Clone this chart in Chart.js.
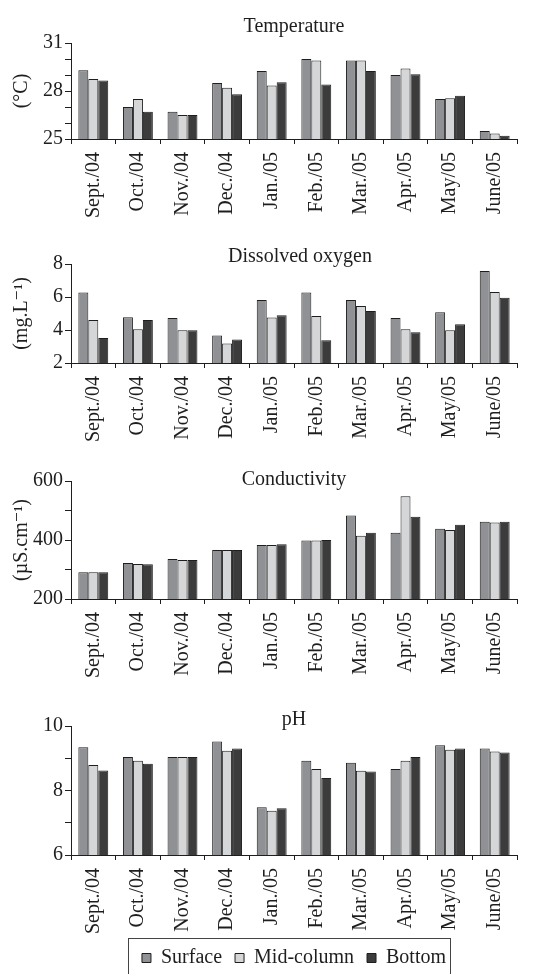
<!DOCTYPE html>
<html>
<head>
<meta charset="utf-8">
<script src="https://cdn.jsdelivr.net/npm/chart.js@4/dist/chart.umd.min.js"></script>
<style>
  html, body { margin: 0; padding: 0; background: #fff; overflow: hidden; }
  #wrap { position: relative; width: 544px; height: 974px; }
  #wrap canvas { position: absolute; left: 0; }
</style>
</head>
<body>
<div id="wrap">
  <canvas id="tempChart" width="544" height="240" style="top:0px"></canvas>
  <canvas id="oxyChart" width="544" height="220" style="top:240px"></canvas>
  <canvas id="condChart" width="544" height="240" style="top:460px"></canvas>
  <canvas id="phChart" width="544" height="278" style="top:700px"></canvas>
</div>
<script>
const months = ['Sept./04', 'Oct./04', 'Nov./04', 'Dec./04', 'Jan./05', 'Feb./05', 'Mar./05', 'Apr./05', 'May/05', 'June/05'];
const seriesNames = ['Surface', 'Mid-column', 'Bottom'];

// Temperature (°C)
const tempSurface = [29.3, 27.0, 26.7, 28.5, 29.25, 30.0, 29.9, 29.0, 27.5, 25.5];
const tempMid     = [28.75, 27.5, 26.5, 28.2, 28.35, 29.9, 29.9, 29.4, 27.55, 25.35];
const tempBottom  = [28.65, 26.7, 26.5, 27.8, 28.55, 28.4, 29.25, 29.05, 27.7, 25.2];
const tempTicks   = [25, 28, 31];

// Dissolved oxygen (mg/L)
const oxySurface = [6.27, 4.78, 4.72, 3.67, 5.82, 6.27, 5.82, 4.72, 5.08, 7.58];
const oxyMid     = [4.6, 4.04, 3.98, 3.18, 4.76, 4.85, 5.45, 4.04, 3.98, 6.3];
const oxyBottom  = [3.52, 4.6, 3.98, 3.42, 4.9, 3.38, 5.15, 3.86, 4.35, 5.95];
const oxyTicks   = [2, 4, 6, 8];

// Conductivity (µS/cm)
const condSurface = [291, 322, 336, 366, 383, 398, 483, 425, 438, 462];
const condMid     = [291, 319, 332, 366, 383, 398, 414, 548, 434, 459];
const condBottom  = [291, 318, 332, 366, 386, 400, 425, 479, 452, 462];
const condTicks   = [200, 400, 600];

// pH
const phSurface = [9.34, 9.04, 9.04, 9.52, 7.48, 8.92, 8.86, 8.67, 9.4, 9.3];
const phMid     = [8.79, 8.92, 9.04, 9.23, 7.37, 8.67, 8.61, 8.92, 9.26, 9.21];
const phBottom  = [8.62, 8.83, 9.04, 9.3, 7.45, 8.39, 8.59, 9.04, 9.3, 9.18];
const phTicks   = [6, 8, 10];

const fills = ['#8f9194', '#d5d6d8', '#3c3c3c'];
const ink = '#1e1e1e';
const serif = { family: '"Liberation Serif", "DejaVu Serif", serif', size: 20 };

// title text drawn over the plot area
const panelTitle = {
    id: 'panelTitle',
    afterDraw(chart, args, opts) {
        if (!opts.text) return;
        const { ctx, chartArea } = chart;
        ctx.save();
        ctx.font = '20px "Liberation Serif", "DejaVu Serif", serif';
        ctx.fillStyle = ink;
        ctx.textAlign = 'center';
        ctx.textBaseline = 'alphabetic';
        ctx.fillText(opts.text, (chartArea.left + chartArea.right) / 2 + (opts.dx || 0), chartArea.top + opts.dy);
        ctx.restore();
    }
};

// box around the legend row
const legendFrame = {
    id: 'legendFrame',
    afterDraw(chart) {
        const lg = chart.legend;
        if (!lg || !lg.options.display || !lg.legendHitBoxes || !lg.legendHitBoxes.length) return;
        const boxes = lg.legendHitBoxes;
        const first = boxes[0];
        const last = boxes[boxes.length - 1];
        const x0 = Math.round(first.left - 14);
        const x1 = Math.round(last.left + last.width + 4);
        const y0 = Math.round(first.top - 10);
        const ctx = chart.ctx;
        ctx.save();
        ctx.strokeStyle = '#444';
        ctx.lineWidth = 1;
        ctx.strokeRect(x0 + 0.5, y0 + 0.5, x1 - x0, chart.height - y0 + 5);
        ctx.restore();
    }
};

function makePanel(id, cfg) {
    const ctx = document.getElementById(id).getContext('2d');
    const datasets = cfg.series.map((values, i) => ({
        label: seriesNames[i],
        data: values,
        backgroundColor: fills[i],
        borderColor: ink,
        borderWidth: 1,
        categoryPercentage: 0.67,
        barPercentage: 1.0
    }));

    return new Chart(ctx, {
        type: 'bar',
        data: { labels: months, datasets: datasets },
        plugins: [panelTitle, legendFrame],
        options: {
            responsive: false,
            animation: false,
            layout: { padding: { top: cfg.padTop, right: 27, bottom: 0, left: 0 } },
            plugins: {
                panelTitle: { text: cfg.title, dy: cfg.titleDy, dx: cfg.titleDx || 0 },
                tooltip: { enabled: false },
                legend: {
                    display: !!cfg.legend,
                    position: 'bottom',
                    fullSize: false,
                    labels: {
                        boxWidth: 9,
                        boxHeight: 9,
                        padding: 13,
                        color: ink,
                        font: serif
                    }
                }
            },
            scales: {
                x: {
                    ticks: {
                        font: serif,
                        color: ink,
                        maxRotation: 90,
                        minRotation: 90,
                        autoSkip: false,
                        padding: 8
                    },
                    grid: { drawOnChartArea: false, tickLength: 5, color: ink, offset: true },
                    border: { display: true, color: ink, width: 1 },
                    afterFit: s => { s.height = cfg.xHeight; }
                },
                y: {
                    min: cfg.min,
                    max: cfg.max,
                    ticks: {
                        stepSize: cfg.step,
                        autoSkip: false,
                        font: serif,
                        color: ink,
                        padding: 2,
                        callback: v => cfg.labeled.includes(v) ? v : ''
                    },
                    grid: { drawOnChartArea: false, tickLength: 6, color: ink },
                    border: { display: true, color: ink, width: 1 },
                    title: {
                        display: !!cfg.yTitle,
                        text: cfg.yTitle,
                        font: serif,
                        color: ink,
                        padding: { top: 10, bottom: 0 }
                    },
                    afterFit: s => { s.width = 71; }
                }
            }
        }
    });
}

makePanel('tempChart', {
    title: 'Temperature', titleDy: -11, yTitle: '(°C)',
    series: [tempSurface, tempMid, tempBottom],
    min: 25, max: 31, step: 1, labeled: tempTicks,
    padTop: 43, xHeight: 101
});

makePanel('oxyChart', {
    title: 'Dissolved oxygen', titleDy: -2, titleDx: 6, yTitle: '(mg.L⁻¹)',
    series: [oxySurface, oxyMid, oxyBottom],
    min: 2, max: 8, step: 2, labeled: oxyTicks,
    padTop: 24, xHeight: 97
});

makePanel('condChart', {
    title: 'Conductivity', titleDy: 4, yTitle: '(µS.cm⁻¹)',
    series: [condSurface, condMid, condBottom],
    min: 200, max: 600, step: 100, labeled: condTicks,
    padTop: 21, xHeight: 101
});

makePanel('phChart', {
    title: 'pH', titleDy: -1, yTitle: '',
    series: [phSurface, phMid, phBottom],
    min: 6, max: 10, step: 1, labeled: phTicks,
    padTop: 26, xHeight: 80, legend: true
});
</script>
</body>
</html>
